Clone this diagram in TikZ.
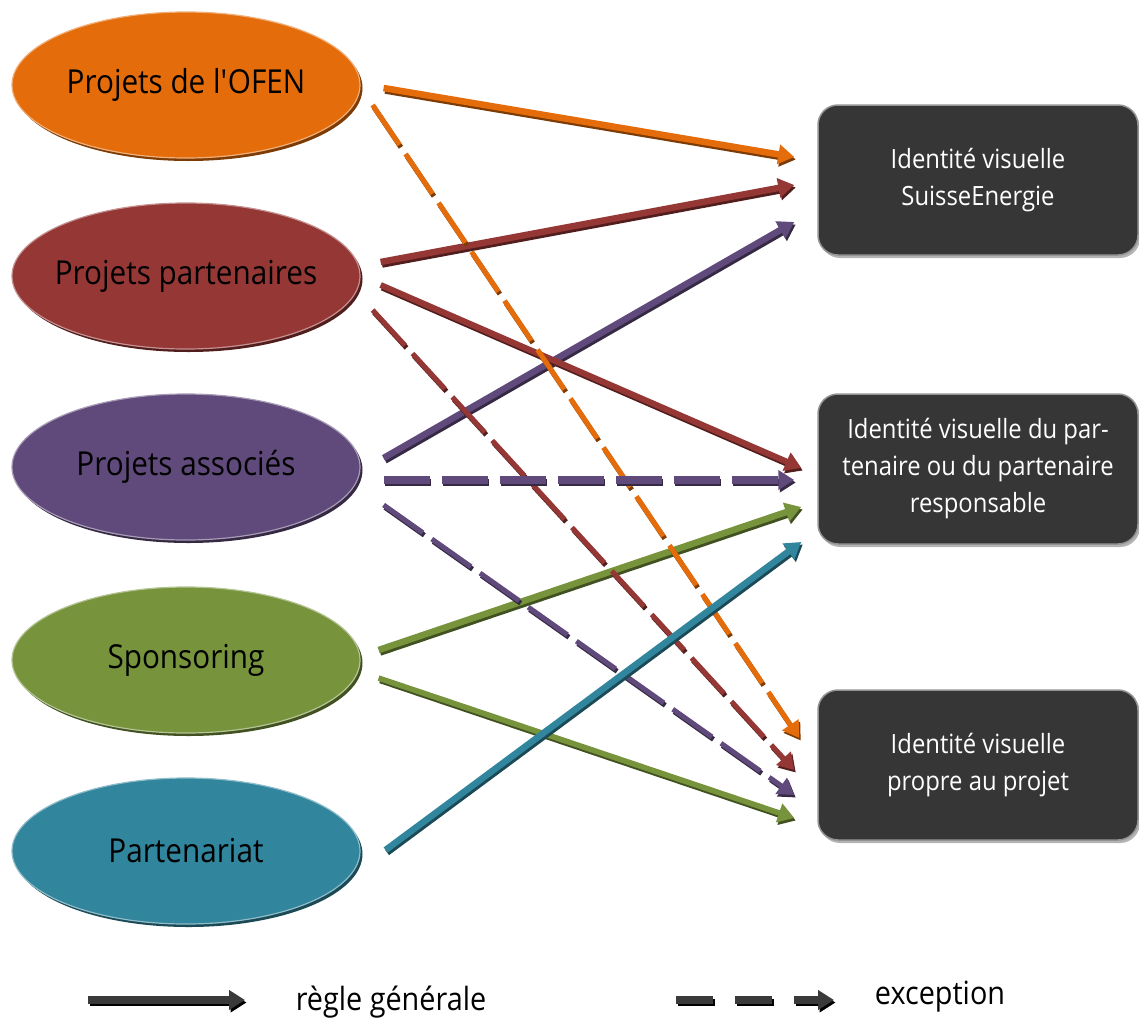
\documentclass[tikz,border=0pt]{standalone}
\usepackage{fontspec}
\setmainfont[FakeStretch=0.9]{Open Sans}
\usetikzlibrary{arrows.meta,shapes.geometric,shadows}
\definecolor{corange}{HTML}{E46C0A}
\definecolor{cred}{HTML}{953735}
\definecolor{cpurple}{HTML}{604A7B}
\definecolor{cgreen}{HTML}{77933C}
\definecolor{cteal}{HTML}{31859C}
\definecolor{cbox}{HTML}{363636}
\definecolor{clegend}{HTML}{3A3A3A}
\tikzset{
  ell/.style={ellipse, minimum width=348pt, minimum height=146pt, inner sep=0pt, fill=#1,
    draw=#1!55!white, line width=1.2pt, text=black,
    font=\fontsize{33}{38}\selectfont,
    drop shadow={shadow xshift=2.5pt, shadow yshift=-3pt, fill=#1!55!black, opacity=1}},
  idbox/.style={rectangle, rounded corners=20pt, minimum width=320pt, minimum height=150pt,
    fill=cbox, draw=gray!85, line width=1.5pt, text=white, align=center,
    font=\fontsize{26.5}{37}\selectfont,
    drop shadow={shadow xshift=2pt, shadow yshift=-3pt, opacity=0.6}},
  arrbase/.style={line width=#1, -{Triangle[length=16pt,width=19pt]}},
  dashdiag/.style={dash pattern=on 48pt off 11pt},
  dashhor/.style={dash pattern=on 46pt off 12pt},
  dashleg/.style={dash pattern=on 37pt off 22pt},
  legtext/.style={font=\fontsize{32}{36}\selectfont, text=black}
}
\begin{document}
\begin{tikzpicture}[x=1pt,y=-1pt]
\useasboundingbox (0,0) rectangle (1139,1023);

% source ellipses
\node[ell=corange] (e1) at (186,85)  {\makebox[0pt]{Projets de l\textquotesingle OFEN}};
\node[ell=cred]    (e2) at (186,276) {\makebox[0pt]{Projets partenaires}};
\node[ell=cpurple] (e3) at (186,467) {\makebox[0pt]{Projets associés}};
\node[ell=cgreen]  (e4) at (186,660) {\makebox[0pt]{Sponsoring}};
\node[ell=cteal]   (e5) at (186,851) {\makebox[0pt]{Partenariat}};

% target boxes
\node[idbox] (b1) at (978,180) {Identité visuelle\\SuisseEnergie};
\node[idbox] (b2) at (978,469) {Identité visuelle du par-\\tenaire ou du partenaire\\responsable};
\node[idbox] (b3) at (978,765) {Identité visuelle\\propre au projet};

% connector ends
\coordinate (s1)  at ([shift={(23,3)}]e1.east);   \coordinate (t1)  at ([shift={(-23,-23)}]b1.west);
\coordinate (s2)  at ([shift={(20,-14)}]e2.east); \coordinate (t2)  at ([shift={(-23,5)}]b1.west);
\coordinate (s3)  at ([shift={(23,-9)}]e3.east);  \coordinate (t3)  at ([shift={(-23,42)}]b1.west);
\coordinate (s4)  at ([shift={(20,9)}]e2.east);   \coordinate (t4)  at ([shift={(-16,-1)}]b2.west);
\coordinate (s5)  at ([shift={(18,-10)}]e4.east); \coordinate (t5)  at ([shift={(-16,38)}]b2.west);
\coordinate (s6)  at ([shift={(25,-1)}]e5.east);  \coordinate (t6)  at ([shift={(-16,73)}]b2.west);
\coordinate (s7)  at ([shift={(18,18)}]e4.east);  \coordinate (t7)  at ([shift={(-23,53)}]b3.west);
\coordinate (s8)  at ([shift={(12,20)}]e1.east);  \coordinate (t8)  at ([shift={(-18,-27)}]b3.west);
\coordinate (s9)  at ([shift={(12,34)}]e2.east);  \coordinate (t9)  at ([shift={(-23,5)}]b3.west);
\coordinate (s10) at ([shift={(23,13)}]e3.east);  \coordinate (t10) at ([shift={(-23,11)}]b2.west);
\coordinate (s11) at ([shift={(23,38)}]e3.east);  \coordinate (t11) at ([shift={(-23,30)}]b3.west);

% connectors: start/end/colour/width/dash
\foreach \s/\t/\c/\w/\d in {
  s1/t1/corange/6.5pt/solid,
  s2/t2/cred/6.5pt/solid,
  s3/t3/cpurple/6.5pt/solid,
  s4/t4/cred/6pt/solid,
  s5/t5/cgreen/6.5pt/solid,
  s7/t7/cgreen/5.5pt/solid,
  s9/t9/cred/5pt/dashdiag,
  s8/t8/corange/5pt/dashdiag,
  s10/t10/cpurple/7.5pt/dashhor,
  s11/t11/cpurple/5pt/dashdiag,
  s6/t6/cteal/6.5pt/solid}{
  \draw[arrbase=\w, draw=\c!55!black, \d, transform canvas={shift={(1.5pt,-2.5pt)}}] (\s) -- (\t);
  \draw[arrbase=\w, draw=\c, \d] (\s) -- (\t);
}

% legend
\coordinate (l1a) at (88,1000);  \coordinate (l1b) at (245,1000);
\coordinate (l2a) at (676,1000); \coordinate (l2b) at (834,1000);
\draw[arrbase=7.5pt, draw=black, transform canvas={shift={(1.5pt,-2.5pt)}}] (l1a) -- (l1b);
\draw[arrbase=7.5pt, draw=clegend] (l1a) -- (l1b);
\draw[arrbase=7.5pt, draw=black, dashleg, transform canvas={shift={(1.5pt,-2.5pt)}}] (l2a) -- (l2b);
\draw[arrbase=7.5pt, draw=clegend, dashleg] (l2a) -- (l2b);
\node[legtext] (g1) at (391,1002) {règle générale};
\node[legtext] (g2) at (940,997) {exception};
\end{tikzpicture}
\end{document}
